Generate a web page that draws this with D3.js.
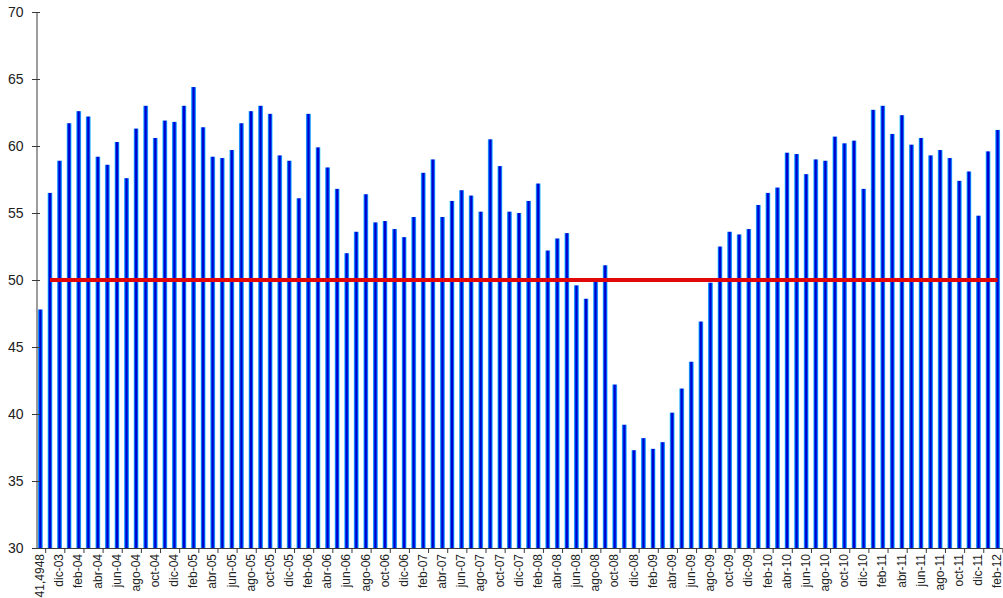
<!DOCTYPE html>
<html>
<head>
<meta charset="utf-8">
<script src="https://cdn.jsdelivr.net/npm/d3@7"></script>
<style>
  html, body { margin: 0; padding: 0; background: #fff; }
  svg { display: block; font-family: "Liberation Sans", Arial, sans-serif; }
</style>
</head>
<body>
<svg id="chart" width="1003" height="598"></svg>
<script>
const categories = [
  "41,4948","nov-03","dic-03",
  "ene-04","feb-04","mar-04","abr-04","may-04","jun-04","jul-04","ago-04","sep-04","oct-04","nov-04","dic-04",
  "ene-05","feb-05","mar-05","abr-05","may-05","jun-05","jul-05","ago-05","sep-05","oct-05","nov-05","dic-05",
  "ene-06","feb-06","mar-06","abr-06","may-06","jun-06","jul-06","ago-06","sep-06","oct-06","nov-06","dic-06",
  "ene-07","feb-07","mar-07","abr-07","may-07","jun-07","jul-07","ago-07","sep-07","oct-07","nov-07","dic-07",
  "ene-08","feb-08","mar-08","abr-08","may-08","jun-08","jul-08","ago-08","sep-08","oct-08","nov-08","dic-08",
  "ene-09","feb-09","mar-09","abr-09","may-09","jun-09","jul-09","ago-09","sep-09","oct-09","nov-09","dic-09",
  "ene-10","feb-10","mar-10","abr-10","may-10","jun-10","jul-10","ago-10","sep-10","oct-10","nov-10","dic-10",
  "ene-11","feb-11","mar-11","abr-11","may-11","jun-11","jul-11","ago-11","sep-11","oct-11","nov-11","dic-11",
  "ene-12","feb-12"
];

const values = [
  47.8, 56.5, 58.9,
  61.7, 62.6, 62.2, 59.2, 58.6, 60.3, 57.6, 61.3, 63.0, 60.6, 61.9, 61.8,
  63.0, 64.4, 61.4, 59.2, 59.1, 59.7, 61.7, 62.6, 63.0, 62.4, 59.3, 58.9,
  56.1, 62.4, 59.9, 58.4, 56.8, 52.0, 53.6, 56.4, 54.3, 54.4, 53.8, 53.2,
  54.7, 58.0, 59.0, 54.7, 55.9, 56.7, 56.3, 55.1, 60.5, 58.5, 55.1, 55.0,
  55.9, 57.2, 52.2, 53.1, 53.5, 49.6, 48.6, 50.1, 51.1, 42.2, 39.2, 37.3,
  38.2, 37.4, 37.9, 40.1, 41.9, 43.9, 46.9, 49.8, 52.5, 53.6, 53.4, 53.8,
  55.6, 56.5, 56.9, 59.5, 59.4, 57.9, 59.0, 58.9, 60.7, 60.2, 60.4, 56.8,
  62.7, 63.0, 60.9, 62.3, 60.1, 60.6, 59.3, 59.7, 59.1, 57.4, 58.1, 54.8,
  59.6, 61.2
];

const yTicks = [30, 35, 40, 45, 50, 55, 60, 65, 70];
const referenceLevel = 50;

(function () {
const svg = d3.select("#chart");
const plotLeft = 35.6, plotRight = 1002.4, plotTop = 12, plotBottom = 548;

const x = d3.scaleBand().domain(categories).range([plotLeft, plotRight]).padding(0);
const y = d3.scaleLinear().domain([30, 70]).range([plotBottom, plotTop]);

const defs = svg.append("defs");
const grad = defs.append("linearGradient").attr("id", "barGrad")
  .attr("x1", "0%").attr("x2", "100%").attr("y1", "0%").attr("y2", "0%");
[["0%", "#66e0ff"], ["12%", "#1e90ff"], ["26%", "#0044f0"], ["40%", "#0000cc"],
 ["60%", "#0000cc"], ["74%", "#0044f0"], ["88%", "#1e90ff"], ["100%", "#66e0ff"]]
  .forEach(([o, c]) => grad.append("stop").attr("offset", o).attr("stop-color", c));

const barW = 5;

// bars
svg.append("g").selectAll("rect")
  .data(values)
  .join("rect")
  .attr("x", (d, i) => x(categories[i]) + x.bandwidth() / 2 - barW / 2)
  .attr("width", barW)
  .attr("y", d => y(d))
  .attr("height", d => y(30) - y(d))
  .attr("fill", "url(#barGrad)");

// y axis
const yAxis = d3.axisLeft(y).tickValues(yTicks).tickSize(0).tickPadding(13);
const gy = svg.append("g").attr("transform", `translate(${plotLeft + 0.9},0)`).call(yAxis);
gy.select(".domain").attr("stroke", "#3a3a3a");
gy.selectAll(".tick text").attr("font-size", 14).attr("fill", "#222");
gy.selectAll(".tick").append("line")
  .attr("x1", -4.5).attr("x2", 3.5).attr("stroke", "#3a3a3a");

// x axis baseline
svg.append("line")
  .attr("x1", plotLeft).attr("x2", plotRight)
  .attr("y1", y(30) + 0.5).attr("y2", y(30) + 0.5)
  .attr("stroke", "#3a3a3a");

// x ticks (every 2 categories, after even category)
const evenCats = categories.filter((c, i) => i % 2 === 0);
svg.append("g").selectAll("line")
  .data(evenCats)
  .join("line")
  .attr("x1", c => x(c) + x.bandwidth() + 0.5)
  .attr("x2", c => x(c) + x.bandwidth() + 0.5)
  .attr("y1", y(30)).attr("y2", y(30) + 5)
  .attr("stroke", "#3a3a3a");

// x labels
svg.append("g").selectAll("text")
  .data(evenCats)
  .join("text")
  .attr("transform", c => `translate(${x(c) + x.bandwidth() / 2 - 0.5},${y(30) + 6}) rotate(-90)`)
  .attr("text-anchor", "end")
  .attr("dy", "0.35em")
  .attr("font-size", 12)
  .attr("fill", "#222")
  .text(c => c);

// reference line at 50
const refLine = d3.line().x(c => x(c) + x.bandwidth() / 2).y(() => y(referenceLevel));
svg.append("path")
  .datum([categories[1], categories[categories.length - 1]])
  .attr("d", refLine)
  .attr("stroke", "#e00808")
  .attr("stroke-width", 4)
  .attr("fill", "none");
})();
</script>
</body>
</html>
